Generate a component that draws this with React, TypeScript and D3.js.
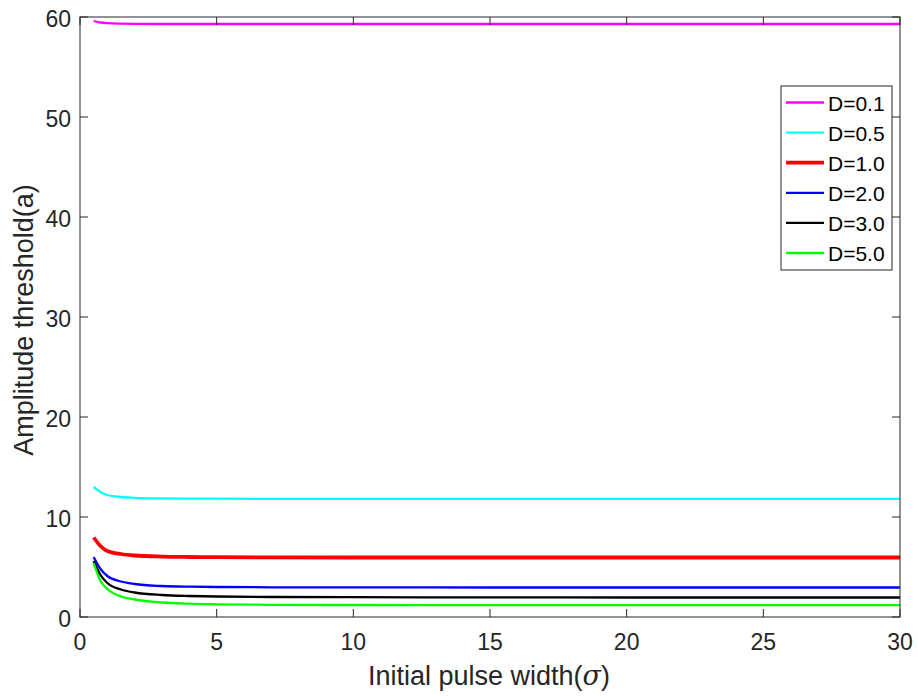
import React from "react";
import * as d3 from "d3";

const sigma = [0.5, 0.75, 1, 1.5, 2, 3, 4, 5, 7, 10, 15, 20, 25, 30];
const d01 = [59.6, 59.45, 59.38, 59.33, 59.31, 59.3, 59.3, 59.3, 59.3, 59.3, 59.3, 59.3, 59.3, 59.3];
const d05 = [13.0, 12.5, 12.2, 12.0, 11.92, 11.86, 11.84, 11.83, 11.82, 11.82, 11.82, 11.82, 11.82, 11.82];
const d10 = [7.95, 7.1, 6.6, 6.3, 6.15, 6.04, 6.0, 5.98, 5.96, 5.95, 5.95, 5.95, 5.95, 5.95];
const d20 = [6.0, 4.8, 4.1, 3.55, 3.3, 3.1, 3.03, 3.0, 2.97, 2.96, 2.95, 2.95, 2.95, 2.95];
const d30 = [5.6, 4.2, 3.4, 2.75, 2.45, 2.2, 2.1, 2.05, 2.0, 1.98, 1.96, 1.95, 1.95, 1.95];
const d50 = [5.4, 3.6, 2.8, 2.05, 1.75, 1.45, 1.33, 1.27, 1.22, 1.2, 1.18, 1.18, 1.18, 1.18];

const seriesNames = ["D=0.1", "D=0.5", "D=1.0", "D=2.0", "D=3.0", "D=5.0"];
const seriesValues = [d01, d05, d10, d20, d30, d50];
const seriesColors = ["#ff00ff", "#00ffff", "#ff0000", "#0000ff", "#000000", "#00ff00"];
const seriesWidths = [2.3, 2.3, 3.8, 2.3, 2.3, 2.3];

const xTicks = [0, 5, 10, 15, 20, 25, 30];
const yTicks = [0, 10, 20, 30, 40, 50, 60];

const W = 918, H = 696;
const L = 80, R = 900, T = 17, B = 617;
const FONT = "'Liberation Sans', Arial, Helvetica, sans-serif";
const AX = "#262626";

export default function App() {
  const x = d3.scaleLinear().domain([0, 30]).range([L, R]);
  const y = d3.scaleLinear().domain([0, 60]).range([B, T]);
  const line = d3
    .line<number>()
    .x((_, i) => x(sigma[i]))
    .y((v) => y(v))
    .curve(d3.curveMonotoneX);

  const legX = 781, legY = 86, legW = 111, legH = 184;
  return (
    <svg width={W} height={H} style={{ position: "absolute", left: 0, top: 0, background: "#fff" }} fontFamily={FONT}>
      <rect x={0} y={0} width={W} height={H} fill="#fff" />
      {seriesValues.map((vals, k) => (
        <path key={k} d={line(vals) || ""} fill="none" stroke={seriesColors[k]} strokeWidth={seriesWidths[k]} />
      ))}
      {/* box */}
      <rect x={L} y={T} width={R - L} height={B - T} fill="none" stroke={AX} strokeWidth={1} />
      {xTicks.map((t) => (
        <g key={"x" + t}>
          <line x1={x(t)} x2={x(t)} y1={B} y2={B - 8} stroke={AX} />
          <line x1={x(t)} x2={x(t)} y1={T} y2={T + 8} stroke={AX} />
          <text x={x(t)} y={B + 33} textAnchor="middle" fontSize={23} fill={AX}>{t}</text>
        </g>
      ))}
      {yTicks.map((t) => (
        <g key={"y" + t}>
          <line x1={L} x2={L + 8} y1={y(t)} y2={y(t)} stroke={AX} />
          <line x1={R} x2={R - 8} y1={y(t)} y2={y(t)} stroke={AX} />
          <text x={71} y={y(t) + 10} textAnchor="end" fontSize={23} fill={AX}>{t}</text>
        </g>
      ))}
      <text x={489} y={685} textAnchor="middle" fontSize={27} fill={AX}>
        Initial pulse width(<tspan fontFamily="'DejaVu Serif', 'Liberation Serif', serif" fontStyle="italic">σ</tspan>)
      </text>
      <text transform={`translate(33,320) rotate(-90)`} textAnchor="middle" fontSize={27} fill={AX}>
        Amplitude threshold(a)
      </text>
      {/* legend */}
      <rect x={legX} y={legY} width={legW} height={legH} fill="#fff" stroke={AX} strokeWidth={1} />
      {seriesNames.map((n, k) => {
        const yy = 102.5 + k * 30.1;
        return (
          <g key={n}>
            <line x1={786} x2={824} y1={yy} y2={yy} stroke={seriesColors[k]} strokeWidth={seriesWidths[k]} />
            <text x={828} y={yy + 8} fontSize={21} fill="#000">{n}</text>
          </g>
        );
      })}
    </svg>
  );
}
